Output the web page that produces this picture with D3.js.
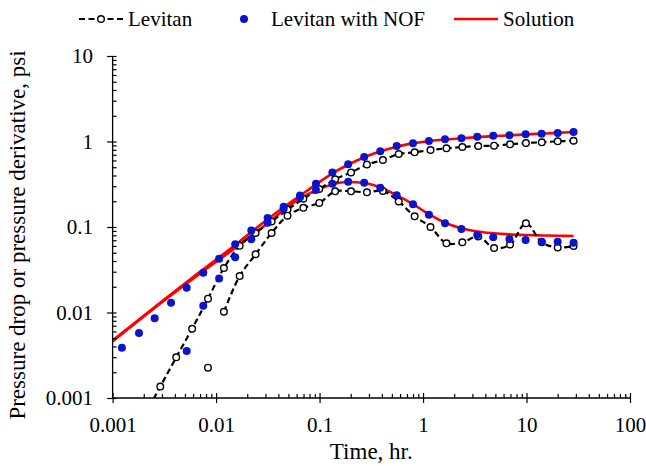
<!DOCTYPE html>
<html>
<head>
<meta charset="utf-8">
<script src="https://cdn.jsdelivr.net/npm/d3@7"></script>
<style>
  html, body { margin: 0; padding: 0; background: #fff; }
  svg text { font-family: "Liberation Serif", "Times New Roman", serif; fill: #000; }
</style>
</head>
<body>
<svg id="chart" width="646" height="466"></svg>
<script>
// Levitan deconvolution: pressure drop and derivative (psi) vs time (hr)
const levTime  = [0.00203, 0.00289, 0.00412, 0.00587, 0.00835, 0.0119, 0.0169, 0.0241, 0.0344, 0.049,
                  0.0697, 0.0993, 0.1415, 0.2015, 0.287, 0.409, 0.582, 0.829, 1.181, 1.683,
                  2.398, 3.415, 4.86, 6.93, 9.87, 14.05, 20.02, 28.5];
const levDrop  = [0.00062, 0.00136, 0.00299, 0.00646, 0.0145, 0.0331, 0.0603, 0.0851, 0.116, 0.160,
                  0.214, 0.278, 0.361, 0.434, 0.538, 0.608, 0.714, 0.748, 0.795, 0.832,
                  0.862, 0.886, 0.893, 0.927, 0.960, 0.979, 1.005, 1.021];
const levDeriv = [null, null, null, null, 0.00226, 0.0102, 0.0267, 0.048, 0.0851, 0.1356,
                  0.1677, 0.191, 0.2615, 0.2615, 0.2546, 0.264, 0.1988, 0.1334, 0.100, 0.0645,
                  0.0663, 0.0774, 0.0568, 0.0624, 0.1105, 0.0663, 0.0576, 0.0600];
// first derivative point is plotted alone, the dashed curve starts at the next one
const levDerivLineFrom = 5;

// Levitan with NOF
const nofTime  = [0.00123, 0.0018, 0.00255, 0.00367, 0.0052, 0.00752, 0.0107, 0.0153, 0.0219, 0.0315,
                  0.045, 0.0647, 0.0923, 0.133, 0.189, 0.27, 0.386, 0.556, 0.8, 1.14,
                  1.63, 2.35, 3.34, 4.77, 6.84, 9.8, 14.0, 20.0, 28.5];
const nofDrop  = [0.00388, 0.00575, 0.00855, 0.0130, 0.0195, 0.0292, 0.0426, 0.0629, 0.0912, 0.127,
                  0.173, 0.234, 0.321, 0.434, 0.541, 0.659, 0.768, 0.886, 0.953, 1.014,
                  1.061, 1.09, 1.138, 1.169, 1.182, 1.213, 1.233, 1.256, 1.291];
const nofDeriv = [null, null, null, null, 0.00355, 0.0120, 0.0250, 0.0442, 0.0718, 0.112,
                  0.164, 0.223, 0.271, 0.320, 0.339, 0.329, 0.288, 0.235, 0.185, 0.139,
                  0.1105, 0.0948, 0.0806, 0.0758, 0.0724, 0.0705, 0.0673, 0.0673, 0.0655];

// Analytical solution
const solTime  = [0.001, 0.003, 0.0075, 0.0153, 0.0219, 0.0315, 0.045, 0.0647, 0.0923, 0.133,
                  0.189, 0.27, 0.386, 0.556, 0.8, 1.14, 1.63, 2.35, 3.34, 4.77,
                  6.84, 9.8, 14, 20, 28.5];
const solDrop  = [0.0047, 0.0135, 0.032, 0.0615, 0.0875, 0.123, 0.170, 0.232, 0.315, 0.425,
                  0.535, 0.655, 0.765, 0.87, 0.95, 1.01, 1.055, 1.09, 1.125, 1.155,
                  1.18, 1.21, 1.235, 1.26, 1.29];
const solDeriv = [0.0046, 0.0132, 0.0305, 0.057, 0.080, 0.110, 0.158, 0.215, 0.268, 0.315,
                  0.336, 0.327, 0.29, 0.236, 0.185, 0.141, 0.112, 0.0966, 0.0885, 0.0845,
                  0.082, 0.0806, 0.0797, 0.079, 0.0785];

const xTicks = [0.001, 0.01, 0.1, 1, 10, 100];
const xTickLabels = ["0.001", "0.01", "0.1", "1", "10", "100"];
const yTicks = [0.001, 0.01, 0.1, 1, 10];
const yTickLabels = ["0.001", "0.01", "0.1", "1", "10"];

const seriesNames = ["Levitan", "Levitan with NOF", "Solution"];
const xTitle = "Time, hr.";
const yTitle = "Pressure drop or pressure derivative, psi";

const BLUE = "#0a14cc", RED = "#ff0000";
const FONT = '"Liberation Serif", "Times New Roman", serif';

const svg = d3.select("#chart");
const pLeft = 112.6, pRight = 630, pTop = 56, pBottom = 398;

const x = d3.scaleLog().domain([0.001, 100]).range([pLeft, pRight]);
const y = d3.scaleLog().domain([0.001, 10]).range([pBottom, pTop]);

// clip region for the data layer
svg.append("defs").append("clipPath").attr("id", "plotClip")
  .append("rect").attr("x", pLeft).attr("y", pTop - 10)
  .attr("width", pRight - pLeft + 10).attr("height", pBottom - pTop + 10);

const zip = (ts, vs) => ts.map((t, i) => ({ t, v: vs[i] })).filter(d => d.v != null);

const plot = svg.append("g").attr("clip-path", "url(#plotClip)");

// solution curves
const solLine = d3.line().x(d => x(d.t)).y(d => y(d.v)).curve(d3.curveMonotoneX);
[solDrop, solDeriv].forEach(vals => {
  plot.append("path").datum(zip(solTime, vals))
    .attr("d", solLine).attr("fill", "none")
    .attr("stroke", RED).attr("stroke-width", 2.6);
});

// Levitan dashed curves with open circles
const dashLine = d3.line().x(d => x(d.t)).y(d => y(d.v)).curve(d3.curveCatmullRom.alpha(0.5));
const levDropPts = zip(levTime, levDrop);
const levDerivPts = zip(levTime, levDeriv);
const levDerivLinePts = zip(levTime.slice(levDerivLineFrom), levDeriv.slice(levDerivLineFrom));
[levDropPts, levDerivLinePts].forEach(pts => {
  plot.append("path").datum(pts)
    .attr("d", dashLine).attr("fill", "none")
    .attr("stroke", "#000").attr("stroke-width", 2.2)
    .attr("stroke-dasharray", "6,3.5");
});
[levDropPts, levDerivPts].forEach(pts => {
  plot.append("g").selectAll("circle").data(pts).join("circle")
    .attr("cx", d => x(d.t)).attr("cy", d => y(d.v)).attr("r", 3.3)
    .attr("fill", "#fff").attr("stroke", "#000").attr("stroke-width", 1.4);
});

// Levitan with NOF dots
[zip(nofTime, nofDrop), zip(nofTime, nofDeriv)].forEach(pts => {
  plot.append("g").selectAll("circle").data(pts).join("circle")
    .attr("cx", d => x(d.t)).attr("cy", d => y(d.v)).attr("r", 4)
    .attr("fill", BLUE);
});

// axes
const isMajor = (ticks, t) => ticks.some(m => Math.abs(m - t) / m < 1e-9);
const minorX = x.ticks().filter(t => !isMajor(xTicks, t));
const minorY = y.ticks().filter(t => !isMajor(yTicks, t));

const ax = svg.append("g");

const gx = ax.append("g").attr("transform", `translate(0,${pBottom})`);
gx.append("g").call(d3.axisBottom(x).tickValues(xTicks).tickSize(5)
  .tickFormat((d, i) => xTickLabels[i]).tickPadding(14));
gx.append("g").call(d3.axisTop(x).tickValues(xTicks).tickSize(5).tickFormat(""));
gx.append("g").call(d3.axisTop(x).tickValues(minorX).tickSize(4).tickFormat(""));

const gy = ax.append("g").attr("transform", `translate(${pLeft},0)`);
gy.append("g").call(d3.axisLeft(y).tickValues(yTicks).tickSize(5.5)
  .tickFormat((d, i) => yTickLabels[i]).tickPadding(14));
gy.append("g").call(d3.axisRight(y).tickValues(yTicks).tickSize(4).tickFormat(""));
gy.append("g").call(d3.axisRight(y).tickValues(minorY).tickSize(4).tickFormat(""));

ax.selectAll(".domain").remove();
ax.selectAll("g").attr("font-family", FONT);
ax.selectAll(".tick line").attr("stroke", "#000").attr("stroke-width", 1.2);
ax.selectAll(".tick text").attr("font-family", FONT).attr("font-size", 21).attr("fill", "#000");
ax.append("line").attr("x1", pLeft).attr("x2", pRight).attr("y1", pBottom).attr("y2", pBottom)
  .attr("stroke", "#000").attr("stroke-width", 1.3);
ax.append("line").attr("x1", pLeft).attr("x2", pLeft).attr("y1", pTop).attr("y2", pBottom)
  .attr("stroke", "#000").attr("stroke-width", 1.3);

// axis titles
svg.append("text").attr("x", (pLeft + pRight) / 2).attr("y", 459)
  .attr("text-anchor", "middle").attr("font-family", FONT).attr("font-size", 23).text(xTitle);
svg.append("text").attr("transform", `translate(25,${(pTop + pBottom) / 2 + 8}) rotate(-90)`)
  .attr("text-anchor", "middle").attr("font-family", FONT).attr("font-size", 23).text(yTitle);

// legend
const lg = svg.append("g").attr("font-family", FONT).attr("font-size", 21);
const ly = 19;
lg.append("line").attr("x1", 79).attr("x2", 123).attr("y1", ly).attr("y2", ly)
  .attr("stroke", "#000").attr("stroke-width", 2.2).attr("stroke-dasharray", "6,3.5");
lg.append("circle").attr("cx", 101).attr("cy", ly).attr("r", 3.3)
  .attr("fill", "#fff").attr("stroke", "#000").attr("stroke-width", 1.4);
lg.append("text").attr("x", 128).attr("y", ly + 7).text(seriesNames[0]);
lg.append("circle").attr("cx", 244).attr("cy", ly).attr("r", 4).attr("fill", BLUE);
lg.append("text").attr("x", 271).attr("y", ly + 7).text(seriesNames[1]);
lg.append("line").attr("x1", 454).attr("x2", 498).attr("y1", ly).attr("y2", ly)
  .attr("stroke", RED).attr("stroke-width", 2.6);
lg.append("text").attr("x", 503).attr("y", ly + 7).text(seriesNames[2]);
</script>
</body>
</html>
